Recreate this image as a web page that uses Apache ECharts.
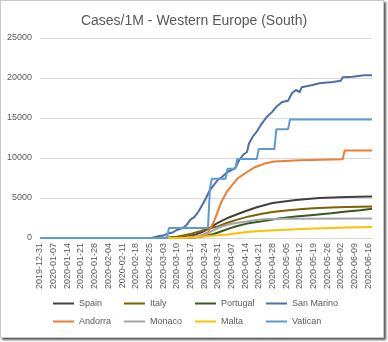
<!DOCTYPE html>
<html><head><meta charset="utf-8">
<script src="https://cdn.jsdelivr.net/npm/echarts@6/dist/echarts.min.js"></script>
<style>
html,body{margin:0;padding:0;background:#fff;width:388px;height:342px;overflow:hidden}
#frame{position:absolute;left:0;top:0;width:382px;height:336px;border:1px solid #c8c8c8;box-shadow:2px 2px 2px rgba(0,0,0,.65);background:#fff}
#chart{position:absolute;left:0;top:0;width:388px;height:342px}
</style></head>
<body><div id="frame"></div><div id="chart"></div>
<script>
const dates = [
'2019-12-31',
'2020-01-01','2020-01-02','2020-01-03','2020-01-04','2020-01-05','2020-01-06','2020-01-07','2020-01-08','2020-01-09','2020-01-10',
'2020-01-11','2020-01-12','2020-01-13','2020-01-14','2020-01-15','2020-01-16','2020-01-17','2020-01-18','2020-01-19','2020-01-20',
'2020-01-21','2020-01-22','2020-01-23','2020-01-24','2020-01-25','2020-01-26','2020-01-27','2020-01-28','2020-01-29','2020-01-30','2020-01-31',
'2020-02-01','2020-02-02','2020-02-03','2020-02-04','2020-02-05','2020-02-06','2020-02-07','2020-02-08','2020-02-09','2020-02-10',
'2020-02-11','2020-02-12','2020-02-13','2020-02-14','2020-02-15','2020-02-16','2020-02-17','2020-02-18','2020-02-19','2020-02-20',
'2020-02-21','2020-02-22','2020-02-23','2020-02-24','2020-02-25','2020-02-26','2020-02-27','2020-02-28','2020-02-29',
'2020-03-01','2020-03-02','2020-03-03','2020-03-04','2020-03-05','2020-03-06','2020-03-07','2020-03-08','2020-03-09','2020-03-10',
'2020-03-11','2020-03-12','2020-03-13','2020-03-14','2020-03-15','2020-03-16','2020-03-17','2020-03-18','2020-03-19','2020-03-20',
'2020-03-21','2020-03-22','2020-03-23','2020-03-24','2020-03-25','2020-03-26','2020-03-27','2020-03-28','2020-03-29','2020-03-30','2020-03-31',
'2020-04-01','2020-04-02','2020-04-03','2020-04-04','2020-04-05','2020-04-06','2020-04-07','2020-04-08','2020-04-09','2020-04-10',
'2020-04-11','2020-04-12','2020-04-13','2020-04-14','2020-04-15','2020-04-16','2020-04-17','2020-04-18','2020-04-19','2020-04-20',
'2020-04-21','2020-04-22','2020-04-23','2020-04-24','2020-04-25','2020-04-26','2020-04-27','2020-04-28','2020-04-29','2020-04-30',
'2020-05-01','2020-05-02','2020-05-03','2020-05-04','2020-05-05','2020-05-06','2020-05-07','2020-05-08','2020-05-09','2020-05-10',
'2020-05-11','2020-05-12','2020-05-13','2020-05-14','2020-05-15','2020-05-16','2020-05-17','2020-05-18','2020-05-19','2020-05-20',
'2020-05-21','2020-05-22','2020-05-23','2020-05-24','2020-05-25','2020-05-26','2020-05-27','2020-05-28','2020-05-29','2020-05-30','2020-05-31',
'2020-06-01','2020-06-02','2020-06-03','2020-06-04','2020-06-05','2020-06-06','2020-06-07','2020-06-08','2020-06-09','2020-06-10',
'2020-06-11','2020-06-12','2020-06-13','2020-06-14','2020-06-15','2020-06-16','2020-06-17','2020-06-18'
];

const spain = [['2019-12-31',0],['2020-02-29',0],['2020-03-05',5],['2020-03-10',35],['2020-03-15',170],['2020-03-20',450],['2020-03-23',750],['2020-03-26',1125],['2020-03-31',1900],['2020-04-06',2600],['2020-04-13',3250],['2020-04-20',3850],['2020-04-28',4375],['2020-05-10',4750],['2020-05-22',5000],['2020-06-05',5125],['2020-06-18',5200]];
const italy = [['2019-12-31',0],['2020-02-21',0],['2020-02-25',5],['2020-03-01',25],['2020-03-05',65],['2020-03-10',160],['2020-03-14',350],['2020-03-18',580],['2020-03-22',850],['2020-03-26',1150],['2020-03-31',1450],['2020-04-05',1900],['2020-04-10',2300],['2020-04-16',2700],['2020-04-22',3000],['2020-04-28',3250],['2020-05-05',3450],['2020-05-12',3600],['2020-05-19',3720],['2020-05-28',3800],['2020-06-05',3870],['2020-06-18',3930]];
const portugal = [['2019-12-31',0],['2020-03-03',0],['2020-03-10',4],['2020-03-15',25],['2020-03-20',100],['2020-03-24',230],['2020-03-29',500],['2020-04-02',850],['2020-04-06',1200],['2020-04-10',1500],['2020-04-15',1800],['2020-04-20',2000],['2020-04-25',2200],['2020-05-02',2480],['2020-05-10',2680],['2020-05-19',2880],['2020-05-28',3080],['2020-06-05',3300],['2020-06-12',3480],['2020-06-18',3650]];
const sanMarino = [['2019-12-31',0],['2020-02-26',0],['2020-02-27',29],['2020-03-01',240],['2020-03-03',300],['2020-03-06',600],['2020-03-08',700],['2020-03-10',1000],['2020-03-13',1250],['2020-03-15',1600],['2020-03-17',2300],['2020-03-19',2600],['2020-03-21',3250],['2020-03-23',4100],['2020-03-25',5000],['2020-03-27',6000],['2020-03-29',6600],['2020-03-31',7250],['2020-04-02',7600],['2020-04-05',8250],['2020-04-09',8750],['2020-04-11',9750],['2020-04-13',10400],['2020-04-15',10750],['2020-04-16',11800],['2020-04-18',12700],['2020-04-20',13300],['2020-04-22',14100],['2020-04-25',15100],['2020-04-28',15800],['2020-04-30',16400],['2020-05-03',17000],['2020-05-06',17150],['2020-05-08',18100],['2020-05-10',18500],['2020-05-12',18250],['2020-05-13',18850],['2020-05-18',19100],['2020-05-22',19350],['2020-05-29',19500],['2020-06-02',19650],['2020-06-03',20100],['2020-06-08',20150],['2020-06-14',20350],['2020-06-18',20350]];
const andorra = [['2019-12-31',0],['2020-03-01',0],['2020-03-14',13],['2020-03-18',50],['2020-03-22',250],['2020-03-26',700],['2020-03-29',2000],['2020-03-31',3300],['2020-04-02',4600],['2020-04-05',5900],['2020-04-08',6800],['2020-04-10',7400],['2020-04-15',8250],['2020-04-19',8850],['2020-04-24',9300],['2020-04-29',9550],['2020-05-12',9720],['2020-06-03',9850],['2020-06-04',10950],['2020-06-18',10950]];
const monaco = [['2019-12-31',0],['2020-03-14',0],['2020-03-18',100],['2020-03-22',250],['2020-03-26',600],['2020-03-31',1250],['2020-04-05',1650],['2020-04-10',1900],['2020-04-15',2050],['2020-04-20',2250],['2020-04-25',2380],['2020-05-05',2400],['2020-06-18',2450]];
const malta = [['2019-12-31',0],['2020-03-06',0],['2020-03-10',10],['2020-03-15',60],['2020-03-20',130],['2020-03-25',230],['2020-03-31',330],['2020-04-05',450],['2020-04-10',600],['2020-04-15',750],['2020-04-22',860],['2020-05-02',1000],['2020-05-10',1080],['2020-05-19',1200],['2020-05-28',1260],['2020-06-05',1300],['2020-06-12',1330],['2020-06-18',1360]];
const vatican = [['2019-12-31',0],['2020-03-05',0],['2020-03-06',1235],['2020-03-26',1235],['2020-03-27',6173],['2020-03-28',7407],['2020-04-04',7407],['2020-04-05',8642],['2020-04-09',8642],['2020-04-10',9877],['2020-04-20',9877],['2020-04-21',11111],['2020-04-29',11111],['2020-04-30',13580],['2020-05-06',13580],['2020-05-07',14815],['2020-06-18',14815]];

const seriesNames = ['Spain','Italy','Portugal','San Marino','Andorra','Monaco','Malta','Vatican'];
const seriesValues = [spain, italy, portugal, sanMarino, andorra, monaco, malta, vatican];
const colors = ['#404040','#806000','#385723','#4F6EA8','#ED7D31','#A5A5A5','#FFC000','#5B9BD5'];
const yTicks = {min:0, max:25000, interval:5000};

const FONT = 'Liberation Sans, Arial, sans-serif';
const legendCols = [53,124,195,266];
const legendRows = [299,317];

const chart = echarts.init(document.getElementById('chart'), null, {renderer:'canvas'});
chart.setOption({
  animation:false,
  color: colors,
  title:{text:'Cases/1M - Western Europe (South)', left:'center', top:9,
    textStyle:{fontSize:14, fontWeight:'normal', color:'#595959', fontFamily:FONT}},
  grid:{left:40, right:16, top:38, bottom:104, containLabel:false},
  legend: seriesNames.map((n,i)=>({
    data:[n], left:legendCols[i%4], top:legendRows[Math.floor(i/4)],
    icon:'rect', itemWidth:21, itemHeight:2, itemGap:0, padding:0,
    textStyle:{fontSize:9, color:'#595959', fontFamily:FONT}
  })),
  xAxis:{type:'category', data:dates, boundaryGap:false,
    axisLine:{lineStyle:{color:'#D9D9D9'}}, axisTick:{show:false},
    axisLabel:{interval:6, rotate:90, fontSize:9, color:'#595959', fontFamily:FONT, margin:5},
    splitLine:{show:false}},
  yAxis:{type:'value', min:yTicks.min, max:yTicks.max, interval:yTicks.interval,
    axisLine:{show:false}, axisTick:{show:false},
    axisLabel:{fontSize:9, color:'#595959', fontFamily:FONT, margin:8, formatter:(v)=>String(v)},
    splitLine:{lineStyle:{color:'#D9D9D9'}}},
  series: seriesNames.map((n,i)=>({
    name:n, type:'line', data:seriesValues[i], showSymbol:false, symbol:'none',
    lineStyle:{width:2, color:colors[i]}, itemStyle:{color:colors[i]}
  }))
});
</script></body></html>
